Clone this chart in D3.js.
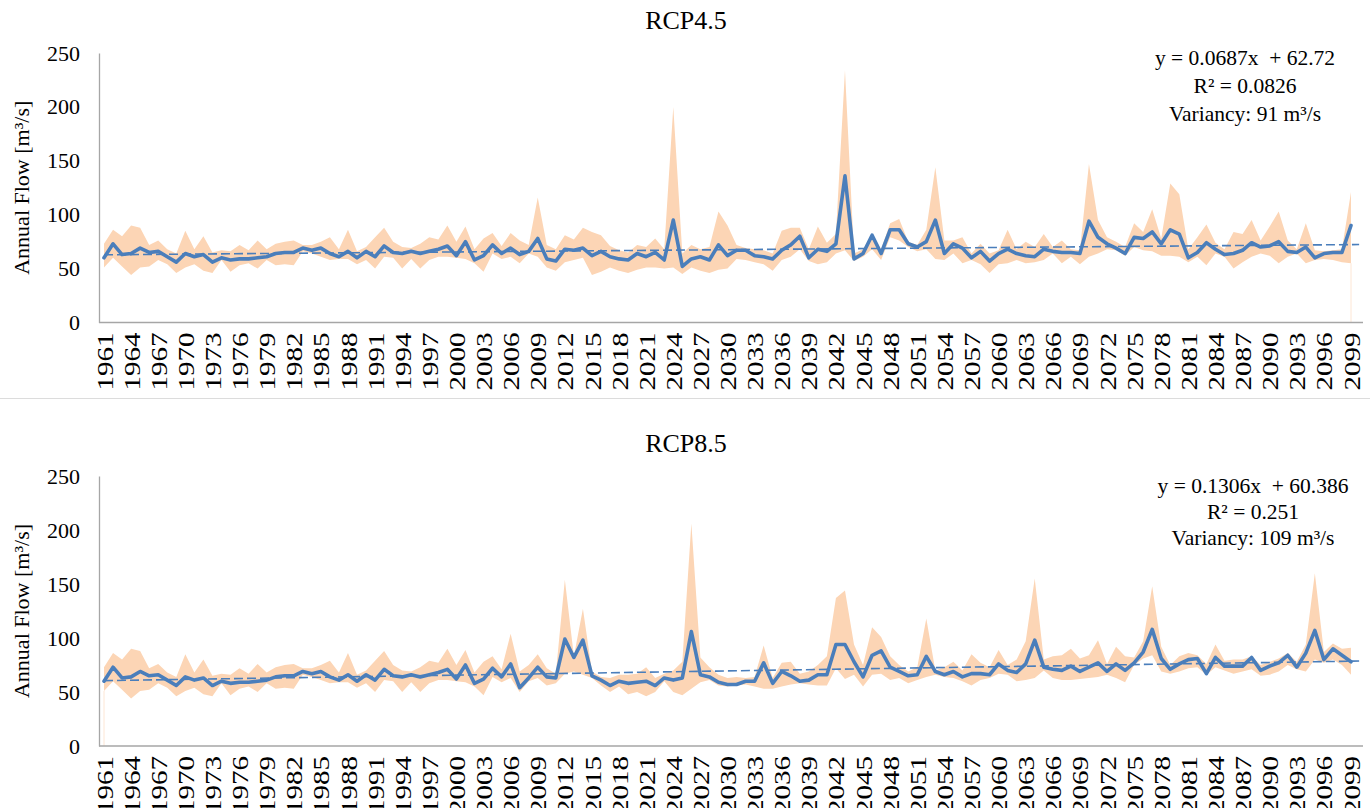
<!DOCTYPE html>
<html>
<head>
<meta charset="utf-8">
<script src="https://cdn.jsdelivr.net/npm/d3@7"></script>
<style>
  html, body { margin: 0; padding: 0; background: #fff; }
  svg { display: block; }
  text { font-family: "Liberation Serif", "Times New Roman", serif; fill: #000; }
</style>
</head>
<body>
<svg id="chart" width="1370" height="808"></svg>
<script>
// ---------------- DATA ----------------
const years = d3.range(1961, 2100);
const tickYears = years.filter((y, i) => i % 3 === 0);
const yTicks = [0, 50, 100, 150, 200, 250];

// RCP4.5 (ensemble mean, min, max) in m3/s
const mean45 = [60,73,63,64,69,65,66,61,56,64, 61,63,56,60,58,59,59,60,61,64,
  65,65,69,67,69,64,61,66,60,66, 61,71,65,64,66,64,66,68,71,62,
  75,58,62,72,64,69,63,66,78,59, 57,68,67,69,62,66,61,59,58,64,
  61,65,58,95,52,59,61,58,72,62, 67,67,62,61,59,67,72,80,60,68,
  66,73,136,59,64,81,64,86,86,73, 70,75,95,64,73,69,60,66,57,64,
  68,64,62,61,68,66,65,65,64,94, 79,73,69,64,79,78,84,73,86,82,
  60,65,74,68,63,64,67,74,70,71, 75,66,65,70,60,64,65,65,90];
const max45 = [73,86,80,90,88,72,76,68,64,85, 68,80,65,67,66,72,67,76,68,73,
  75,76,72,72,75,79,68,86,66,70, 79,88,75,70,69,73,79,77,90,75,
  89,68,78,83,71,83,76,72,116,72, 68,81,77,88,84,81,71,67,65,72,
  70,78,68,200,64,72,68,70,103,90, 72,69,68,67,64,85,88,88,68,89,
  74,82,234,64,68,82,68,92,96,75, 72,86,144,76,76,79,64,73,64,67,
  86,68,75,70,82,70,76,68,67,147, 95,79,75,70,92,84,105,78,129,119,
  68,79,91,74,68,84,82,95,76,89, 103,76,68,92,67,66,67,68,121];
const min45 = [51,60,52,44,51,52,58,54,46,51, 54,48,46,58,47,53,55,50,58,53,
  54,53,66,64,61,58,59,59,54,58, 50,61,60,50,59,50,58,61,61,60,
  59,55,47,64,59,61,55,64,61,51, 48,56,58,60,44,47,51,48,46,49,
  51,51,50,51,45,51,48,46,49,50, 59,58,56,54,48,58,61,68,57,54,
  56,64,67,57,61,68,58,79,76,70, 66,68,59,58,64,55,58,54,46,54,
  55,58,55,56,58,64,55,61,54,61, 64,68,67,62,70,67,66,62,62,61,
  56,61,53,64,61,50,56,61,64,62, 55,61,64,55,58,59,58,56,55];

// RCP8.5 (1961-2005 historic period identical to RCP4.5)
const mean85 = [60,73,63,64,69,65,66,61,56,64, 61,63,56,60,58,59,59,60,61,64,
  65,65,69,67,69,64,61,66,60,66, 61,71,65,64,66,64,66,68,71,62,
  75,58,62,72,64,76,54,63,73,64, 63,99,82,98,65,61,56,60,58,59,
  60,56,63,61,63,106,66,64,59,57, 57,60,60,77,58,69,65,60,61,66,
  66,94,94,78,64,84,88,73,69,65, 66,83,69,66,69,64,67,67,66,76,
  70,68,76,98,73,71,70,74,69,73, 77,69,76,70,77,87,108,81,71,76,
  80,81,67,82,74,74,74,82,70,74, 77,84,73,86,107,80,90,84,78];
const max85 = [73,86,80,90,88,72,76,68,64,85, 68,80,65,67,66,72,67,76,68,73,
  75,76,72,72,75,79,68,86,66,70, 79,88,75,70,69,73,79,77,90,75,
  89,68,78,83,71,104,69,75,85,72, 67,154,83,127,69,64,63,66,66,67,
  73,63,67,70,78,206,82,73,66,63, 64,63,64,93,63,77,78,67,69,75,
  83,137,144,94,75,110,101,83,75,69, 73,118,70,73,78,70,85,77,73,89,
  75,80,97,155,80,83,84,90,81,84, 98,76,92,83,82,97,148,92,75,83,
  86,84,76,94,79,80,80,83,75,78, 81,86,78,94,160,87,95,90,91];
const min85 = [51,60,52,44,51,52,58,54,46,51, 54,48,46,58,47,53,55,50,58,53,
  54,53,66,64,61,58,59,59,54,58, 50,61,60,50,59,50,58,61,61,60,
  59,55,47,64,59,63,50,60,63,56, 58,67,69,66,63,56,50,55,48,50,
  46,50,60,50,47,53,59,61,56,55, 56,57,55,53,53,55,57,58,57,56,
  56,72,62,66,55,66,67,61,63,58, 61,64,66,64,63,60,56,61,63,67,
  66,60,61,63,70,63,61,61,62,63, 64,66,63,59,75,81,84,69,67,69,
  72,73,66,73,70,67,69,71,65,66, 69,75,71,69,80,77,80,75,66];

const titles = ["RCP4.5", "RCP8.5"];
const trendSlope = [0.0687, 0.1306];
const trendIntercept = [62.72, 60.386];
const statLines = [
  ["y = 0.0687x  + 62.72", "R\u00B2 = 0.0826", "Variancy: 91 m\u00B3/s"],
  ["y = 0.1306x  + 60.386", "R\u00B2 = 0.251", "Variancy: 109 m\u00B3/s"]
];
const yLabel = "Annual Flow [m\u00B3/s]";

// ---------------- LAYOUT ----------------
const panels = [
  { mean: mean45, max: max45, min: min45, top: 53, bottom: 322.5, titleY: 29, statX: 1245, statY: [65, 93, 121], artifactYear: 2099 },
  { mean: mean85, max: max85, min: min85, top: 476, bottom: 746, titleY: 452, statX: 1253, statY: [493, 519, 545], artifactYear: 1961 }
];
const axisX0 = 99, axisX1 = 1363;
const blue = "#4a7ebb", band = "#fcd5b5", axisGray = "#a6a6a6";

const svg = d3.select("#chart");

// separator between the two charts
svg.append("line").attr("x1", 0).attr("x2", 1370).attr("y1", 398.5).attr("y2", 398.5)
  .attr("stroke", "#dcdcdc").attr("stroke-width", 1);

const x = d3.scalePoint().domain(years).range([104, 1351]);

panels.forEach((p, k) => {
  const g = svg.append("g");
  const y = d3.scaleLinear().domain([0, 250]).range([p.bottom, p.top]);

  const rows = years.map((yr, i) => ({ yr, mean: p.mean[i], lo: p.min[i], hi: p.max[i] }));

  // band (min-max)
  g.append("path").datum(rows)
    .attr("fill", band)
    .attr("d", d3.area().x(d => x(d.yr)).y0(d => y(d.lo)).y1(d => y(d.hi)));

  // thin artifact line of the stacked area
  const art = rows.find(d => d.yr === p.artifactYear);
  g.append("line")
    .attr("x1", x(art.yr)).attr("x2", x(art.yr))
    .attr("y1", y(art.lo)).attr("y2", y(0))
    .attr("stroke", "#fde6d4").attr("stroke-width", 1);

  // axes
  const yAxis = g.append("g").attr("transform", `translate(${axisX0},0)`)
    .call(d3.axisLeft(y).tickValues(yTicks).tickSize(0).tickPadding(19));
  yAxis.select(".domain").attr("stroke", axisGray).attr("stroke-width", 1.3);
  yAxis.selectAll("text").attr("font-family", "Liberation Serif").attr("font-size", 22).attr("fill", "#000");

  g.append("line").attr("x1", axisX0).attr("x2", axisX1)
    .attr("y1", y(0)).attr("y2", y(0))
    .attr("stroke", axisGray).attr("stroke-width", 1.3);

  const xAxis = g.append("g").attr("transform", `translate(0,${y(0)})`)
    .call(d3.axisBottom(x).tickValues(tickYears).tickSize(0));
  xAxis.select(".domain").remove();
  xAxis.selectAll("text")
    .attr("font-family", "Liberation Serif").attr("font-size", 23).attr("fill", "#000")
    .attr("transform", "rotate(-90)")
    .attr("text-anchor", "end")
    .attr("x", -10).attr("y", 0).attr("dy", "0.35em")
    .attr("textLength", 58).attr("lengthAdjust", "spacingAndGlyphs");

  // trend line (dashed)
  const step = x.step();
  const tx0 = x(years[0]), tx1 = x(years[years.length - 1]) + 0.9 * step;
  const n0 = 1, n1 = years.length + 0.9;
  g.append("line")
    .attr("x1", tx0).attr("x2", tx1)
    .attr("y1", y(trendSlope[k] * n0 + trendIntercept[k]))
    .attr("y2", y(trendSlope[k] * n1 + trendIntercept[k]))
    .attr("stroke", blue).attr("stroke-width", 1.6).attr("stroke-dasharray", "9,4");

  // mean line
  g.append("path").datum(rows)
    .attr("fill", "none").attr("stroke", blue).attr("stroke-width", 3.6)
    .attr("stroke-linejoin", "round").attr("stroke-linecap", "round")
    .attr("d", d3.line().x(d => x(d.yr)).y(d => y(d.mean)));

  // title
  g.append("text").attr("x", 686).attr("y", p.titleY)
    .attr("text-anchor", "middle").attr("font-size", 26).text(titles[k]);

  // y label
  const midY = (p.top + p.bottom) / 2;
  g.append("text")
    .attr("transform", `translate(29,${midY}) rotate(-90)`)
    .attr("text-anchor", "middle").attr("font-size", 22).text(yLabel);

  // equation / stats
  statLines[k].forEach((s, j) => {
    g.append("text").attr("x", p.statX).attr("y", p.statY[j])
      .attr("text-anchor", "middle").attr("font-size", 21.5)
      .attr("xml:space", "preserve").style("white-space", "pre").text(s);
  });
});
</script>
</body>
</html>
